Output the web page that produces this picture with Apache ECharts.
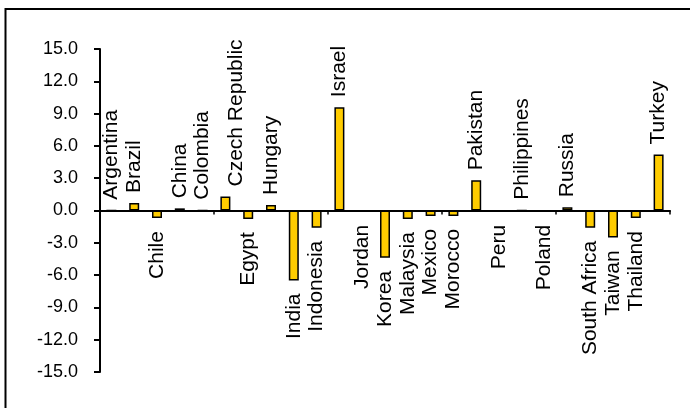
<!DOCTYPE html>
<html>
<head>
<meta charset="utf-8">
<script src="https://cdn.jsdelivr.net/npm/echarts@6/dist/echarts.min.js"></script>
<style>
html,body{margin:0;padding:0;background:#fff;}
#chart{width:690px;height:408px;}
</style>
</head>
<body>
<div id="chart"></div>
<script>
const categories = ["Argentina","Brazil","Chile","China","Colombia","Czech Republic","Egypt","Hungary","India","Indonesia","Israel","Jordan","Korea","Malaysia","Mexico","Morocco","Pakistan","Peru","Philippines","Poland","Russia","South Africa","Taiwan","Thailand","Turkey"];
const values = [0, 0.7, -0.7, 0.2, 0, 1.3, -0.8, 0.5, -6.5, -1.6, 9.6, -0.1, -4.4, -0.8, -0.5, -0.5, 2.8, -0.1, 0, -0.1, 0.3, -1.6, -2.5, -0.7, 5.2];
const yTicks = [-15, -12, -9, -6, -3, 0, 3, 6, 9, 12, 15];

const chart = echarts.init(document.getElementById('chart'));
const seriesData = values.map(function (v, i) {
  const pos = v >= 0;
  return {
    value: v,
    name: categories[i],
    label: {
      position: pos ? 'top' : 'bottom',
      align: pos ? 'left' : 'right',
      distance: pos ? 10 : 13
    }
  };
});
chart.setOption({
  animation: false,
  backgroundColor: '#ffffff',
  graphic: [{
    type: 'rect',
    shape: { x: 5.5, y: 9, width: 720, height: 430 },
    style: { fill: 'none', stroke: '#000', lineWidth: 2 },
    silent: true
  }],
  grid: { left: 100, right: 20, top: 49, bottom: 36 },
  xAxis: {
    type: 'category',
    data: categories,
    axisLine: { onZero: true, lineStyle: { color: '#000', width: 2 } },
    axisTick: { show: true, length: 4, lineStyle: { color: '#000', width: 1.5 } },
    axisLabel: { show: false },
    splitLine: { show: false }
  },
  yAxis: {
    type: 'value',
    min: yTicks[0],
    max: yTicks[yTicks.length - 1],
    interval: 3,
    axisLine: { show: true, lineStyle: { color: '#000', width: 2 } },
    axisTick: { show: true, length: 6, lineStyle: { color: '#000', width: 2 } },
    splitLine: { show: false },
    axisLabel: {
      margin: 22,
      color: '#000',
      fontFamily: 'Liberation Sans',
      fontSize: 18,
      formatter: function (v) { return v.toFixed(1); }
    }
  },
  series: [{
    type: 'bar',
    data: seriesData,
    barWidth: 10,
    itemStyle: { color: '#FFCC00', borderColor: '#000', borderWidth: 1.5 },
    label: {
      show: true,
      rotate: 90,
      verticalAlign: 'middle',
      formatter: '{b}',
      color: '#000',
      fontFamily: 'Liberation Sans',
      fontSize: 21
    },
    labelLayout: function (p) {
      const top = p.labelRect.y;
      if (top < 44) { return { dy: 50 - top }; }
      return {};
    }
  }]
});
</script>
</body>
</html>
